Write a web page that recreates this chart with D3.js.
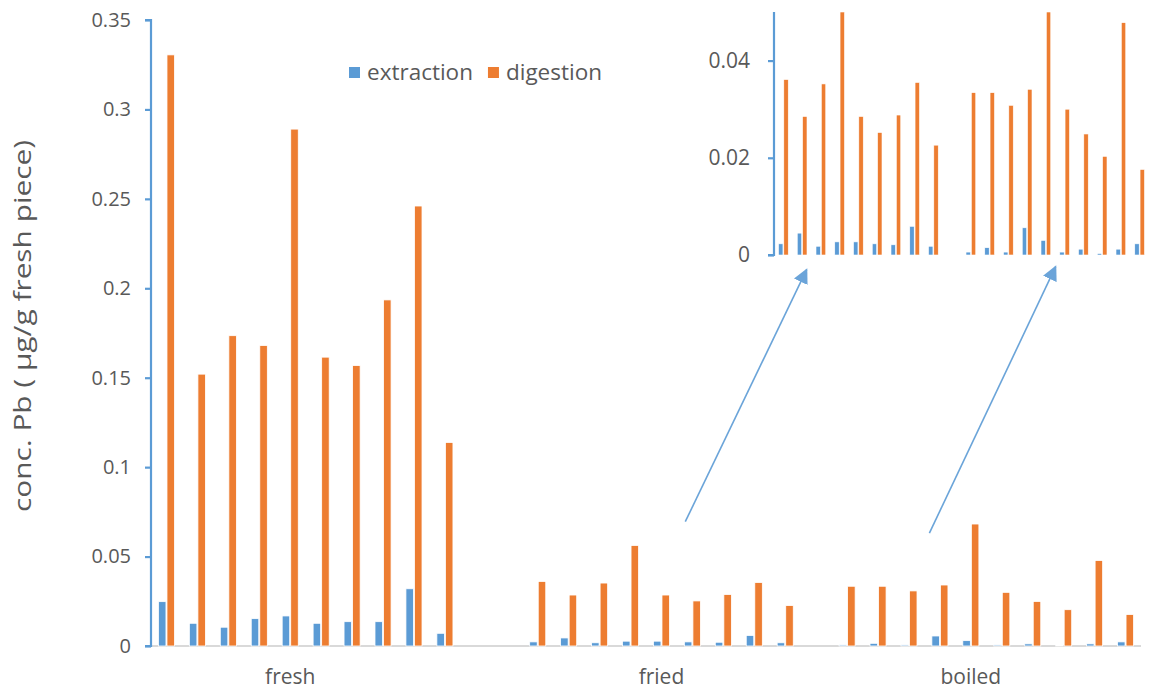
<!DOCTYPE html>
<html>
<head>
<meta charset="utf-8">
<script src="https://cdn.jsdelivr.net/npm/d3@7"></script>
<style>
  body { margin: 0; background: #fff; }
  svg { display: block; }
  text { font-family: "Open Sans", "Noto Sans", sans-serif; fill: #595959; }
</style>
</head>
<body>
<svg id="chart" width="1150" height="698"></svg>
<script>
// ---- data ----
const slotLabels = ["", "", "", "", "fresh", "", "", "", "", "", "", "",
                    "", "", "", "", "fried", "", "", "", "", "",
                    "", "", "", "", "boiled", "", "", "", "", ""];
const extraction = [0.0248, 0.0127, 0.0105, 0.0153, 0.0168, 0.0127, 0.0136, 0.0136, 0.0320, 0.0071,
                    null, null,
                    0.0023, 0.0045, 0.0018, 0.0027, 0.0027, 0.0023, 0.0021, 0.0059, 0.0018,
                    null,
                    0.0006, 0.0015, 0.0006, 0.0056, 0.0030, 0.0006, 0.0012, 0.0003, 0.0012, 0.0023];
const digestion  = [0.3305, 0.1520, 0.1735, 0.1680, 0.2890, 0.1615, 0.1568, 0.1935, 0.2460, 0.1138,
                    null, null,
                    0.0361, 0.0285, 0.0352, 0.0562, 0.0285, 0.0252, 0.0288, 0.0355, 0.0226,
                    null,
                    0.0334, 0.0334, 0.0308, 0.0341, 0.0682, 0.0300, 0.0249, 0.0203, 0.0478, 0.0176];
const seriesNames = ["extraction", "digestion"];
const mainTicks = [0, 0.05, 0.1, 0.15, 0.2, 0.25, 0.3, 0.35];
const insetTicks = [0, 0.02, 0.04];
const yTitle = "conc. Pb ( µg/g fresh piece)";
// annotation arrows: from [slot, value] in main chart to [slot, value] in inset
const arrows = [
  { from: [17.27, 0.0695], to: [13.74, -0.0030] },
  { from: [25.16, 0.0631], to: [27.02, -0.0024] }
];

const colors = { extraction: "#5B9BD5", digestion: "#ED7D31" };
const svg = d3.select("#chart");

const slots = d3.range(slotLabels.length);
const rows = slots.map(i => ({ i, extraction: extraction[i], digestion: digestion[i] }));

// ---- main chart ----
const x = d3.scaleBand().domain(slots).range([151, 1141]).paddingInner(0).paddingOuter(0);
const y = d3.scaleLinear().domain([0, 0.35]).range([646, 20]);
const bw = x.bandwidth();
const sub = d3.scaleBand().domain(seriesNames).range([bw * 0.24, bw * 0.76]).paddingInner(0.12);

// baseline
svg.append("line").attr("x1", 151).attr("x2", 1141).attr("y1", y(0)).attr("y2", y(0))
  .attr("stroke", "#D9D9D9").attr("stroke-width", 2);

// bars
const g = svg.append("g");
seriesNames.forEach(s => {
  g.selectAll(null).data(rows.filter(d => d[s] != null)).join("rect")
    .attr("x", d => x(d.i) + sub(s))
    .attr("width", sub.bandwidth())
    .attr("y", d => y(d[s]))
    .attr("height", d => y(0) - y(d[s]))
    .attr("fill", colors[s]).attr("stroke", "#fff").attr("stroke-width", 0.8);
});

// y axis
const yAxis = svg.append("g").attr("transform", "translate(151,0)")
  .call(d3.axisLeft(y).tickValues(mainTicks).tickSize(6).tickPadding(14)
        .tickFormat(d => d === 0 ? "0" : String(+d.toFixed(2))));
yAxis.select(".domain").attr("stroke", "#5B9BD5").attr("stroke-width", 2.2)
  .attr("d", `M-6,${y(0.35)}H0V${y(0)}H-6`);
yAxis.selectAll(".tick line").attr("stroke", "#5B9BD5").attr("stroke-width", 2.2);
yAxis.selectAll(".tick text").attr("font-size", 20).style("fill", "#595959")
  .attr("font-family", "'Open Sans', sans-serif");

// x axis labels
const xAxis = svg.append("g").attr("transform", `translate(0,${y(0)})`)
  .call(d3.axisBottom(x).tickSize(0).tickPadding(23).tickFormat(i => slotLabels[i]));
xAxis.select(".domain").remove();
xAxis.selectAll(".tick text").attr("font-size", 21).style("fill", "#595959")
  .attr("font-family", "'Open Sans', sans-serif");

// y title
svg.append("text").attr("transform", `translate(22,326) rotate(-90)`)
  .attr("text-anchor", "middle").attr("dominant-baseline", "central")
  .attr("font-size", 23.5).attr("textLength", 372).attr("lengthAdjust", "spacingAndGlyphs")
  .text(yTitle);

// legend
const leg = svg.append("g").attr("transform", "translate(349,67)");
let lx = 0;
seriesNames.forEach(s => {
  leg.append("rect").attr("x", lx).attr("y", 0).attr("width", 11).attr("height", 11).attr("fill", colors[s]);
  const t = leg.append("text").attr("x", lx + 18).attr("y", 13).attr("font-size", 22.5).text(s);
  lx += 18 + t.node().getComputedTextLength() + 15;
});

// ---- inset ----
const xi = d3.scaleBand().domain(d3.range(12, 32)).range([774, 1149]).paddingInner(0).paddingOuter(0);
const yi = d3.scaleLinear().domain([0, 0.05]).range([255, 12]);
const bwi = xi.bandwidth();
const subi = d3.scaleBand().domain(seriesNames).range([bwi * 0.24, bwi * 0.76]).paddingInner(0.16);
const gi = svg.append("g");
seriesNames.forEach(s => {
  gi.selectAll(null).data(rows.filter(d => d.i >= 12 && d[s] != null)).join("rect")
    .attr("x", d => xi(d.i) + subi(s))
    .attr("width", subi.bandwidth())
    .attr("y", d => yi(Math.min(d[s], 0.05)))
    .attr("height", d => yi(0) - yi(Math.min(d[s], 0.05)))
    .attr("fill", colors[s]).attr("stroke", "#fff").attr("stroke-width", 0.6);
});
const yiAxis = svg.append("g").attr("transform", "translate(774,0)")
  .call(d3.axisLeft(yi).tickValues(insetTicks).tickSize(6).tickPadding(18)
        .tickFormat(d => d === 0 ? "0" : d.toFixed(2)));
yiAxis.select(".domain").attr("stroke", "#5B9BD5").attr("stroke-width", 2.2)
  .attr("d", `M0,${yi(0.05)}V${yi(0)}H-6`);
yiAxis.selectAll(".tick line").attr("stroke", "#5B9BD5").attr("stroke-width", 2.2);
yiAxis.selectAll(".tick text").attr("font-size", 21).style("fill", "#595959")
  .attr("font-family", "'Open Sans', sans-serif");

// ---- arrows ----
const defs = svg.append("defs");
defs.append("marker").attr("id", "ah").attr("viewBox", "0 0 10 10").attr("refX", 9).attr("refY", 5)
  .attr("markerWidth", 15).attr("markerHeight", 15).attr("markerUnits", "userSpaceOnUse")
  .attr("orient", "auto")
  .append("path").attr("d", "M0,0L10,5L0,10Z").attr("fill", "#5B9BD5");
const slotX = (sc, v) => sc(Math.floor(v)) + (v - Math.floor(v)) * sc.step();
arrows.forEach(a => {
  svg.append("line")
    .attr("x1", slotX(x, a.from[0])).attr("y1", y(a.from[1]))
    .attr("x2", slotX(xi, a.to[0])).attr("y2", yi(a.to[1]))
    .attr("stroke", "#5B9BD5").attr("stroke-width", 1.6).attr("opacity", 0.9)
    .attr("marker-end", "url(#ah)");
});
</script>
</body>
</html>
